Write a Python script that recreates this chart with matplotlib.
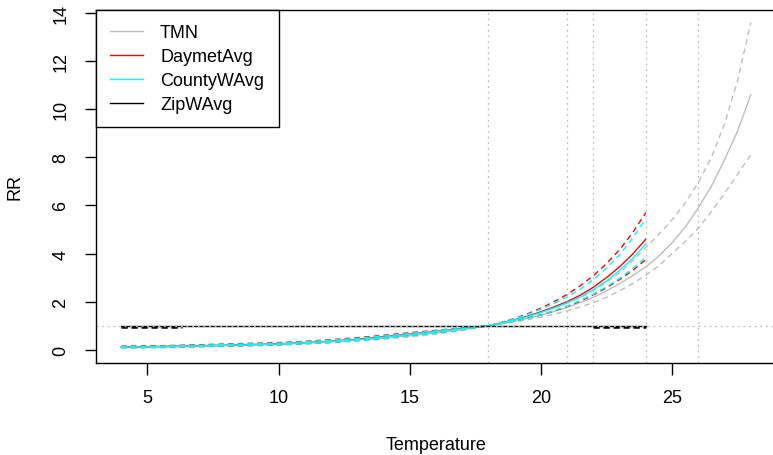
import numpy as np
import matplotlib
matplotlib.use('Agg')
import matplotlib.pyplot as plt

plt.rcParams['font.family'] = ['Liberation Sans', 'DejaVu Sans']

# temperature grids (1 degree steps up to 18, half degrees above)
temp_tmn = [4, 5, 6, 7, 8, 9, 10, 11, 12, 13, 14, 15, 16, 17, 18,
            18.5, 19, 19.5, 20, 20.5, 21, 21.5, 22, 22.5, 23, 23.5, 24,
            24.5, 25, 25.5, 26, 26.5, 27, 27.5, 28]
temp_avg = [4, 5, 6, 7, 8, 9, 10, 11, 12, 13, 14, 15, 16, 17, 18,
            18.5, 19, 19.5, 20, 20.5, 21, 21.5, 22, 22.5, 23, 23.5, 24]

# TMN (grey)
tmn_rr = [0.08, 0.10, 0.12, 0.14, 0.17, 0.19, 0.22, 0.27, 0.33, 0.40, 0.48, 0.58, 0.70, 0.84, 1.00,
          1.09, 1.19, 1.31, 1.44, 1.59, 1.76, 1.96, 2.18, 2.45, 2.75, 3.08, 3.45,
          3.90, 4.45, 5.10, 5.90, 6.80, 7.90, 9.10, 10.60]
tmn_hi = [0.11, 0.13, 0.15, 0.17, 0.20, 0.23, 0.26, 0.31, 0.37, 0.44, 0.53, 0.64, 0.75, 0.88, 1.00,
          1.11, 1.24, 1.38, 1.54, 1.72, 1.93, 2.17, 2.45, 2.80, 3.20, 3.70, 4.25,
          4.80, 5.40, 6.10, 6.95, 8.00, 9.40, 11.20, 13.60]
tmn_lo = [0.05, 0.07, 0.09, 0.11, 0.14, 0.16, 0.19, 0.23, 0.29, 0.36, 0.44, 0.53, 0.65, 0.80, 1.00,
          1.07, 1.15, 1.25, 1.36, 1.48, 1.62, 1.78, 1.96, 2.18, 2.45, 2.75, 3.10,
          3.50, 4.00, 4.50, 5.05, 5.75, 6.50, 7.30, 8.10]

# DaymetAvg (red)
day_rr = [0.12, 0.13, 0.15, 0.17, 0.19, 0.22, 0.25, 0.30, 0.36, 0.44, 0.54, 0.65, 0.76, 0.88, 1.00,
          1.12, 1.25, 1.40, 1.58, 1.78, 2.00, 2.27, 2.60, 3.00, 3.45, 3.98, 4.60]
day_hi = [0.15, 0.16, 0.18, 0.21, 0.24, 0.27, 0.30, 0.35, 0.42, 0.50, 0.60, 0.71, 0.81, 0.91, 1.00,
          1.14, 1.30, 1.50, 1.73, 2.00, 2.30, 2.66, 3.08, 3.58, 4.16, 4.87, 5.70]
day_lo = [0.10, 0.11, 0.12, 0.14, 0.16, 0.18, 0.21, 0.26, 0.31, 0.39, 0.48, 0.59, 0.71, 0.85, 1.00,
          1.10, 1.20, 1.32, 1.45, 1.61, 1.80, 2.02, 2.28, 2.58, 2.92, 3.30, 3.75]

# CountyWAvg (cyan)
cty_rr = [0.11, 0.12, 0.14, 0.16, 0.18, 0.21, 0.24, 0.29, 0.35, 0.42, 0.52, 0.63, 0.74, 0.87, 1.00,
          1.11, 1.24, 1.38, 1.55, 1.74, 1.95, 2.20, 2.50, 2.86, 3.30, 3.80, 4.40]
cty_hi = [0.13, 0.14, 0.16, 0.19, 0.22, 0.25, 0.28, 0.33, 0.40, 0.47, 0.57, 0.68, 0.79, 0.90, 1.00,
          1.13, 1.28, 1.47, 1.69, 1.93, 2.20, 2.52, 2.92, 3.40, 3.95, 4.65, 5.45]
cty_lo = [0.09, 0.10, 0.12, 0.14, 0.16, 0.18, 0.21, 0.25, 0.31, 0.38, 0.47, 0.58, 0.70, 0.84, 1.00,
          1.09, 1.19, 1.31, 1.45, 1.62, 1.82, 2.05, 2.32, 2.62, 2.97, 3.38, 3.85]

# ZipWAvg (black)
zip_temp = [4, 24]
zip_rr = [1.0, 1.0]
zip_ci_temp = [4, 5, 6, 6.3, np.nan, 22, 23, 24]
zip_lo = [0.955, 0.955, 0.955, 0.955, np.nan, 0.955, 0.955, 0.955]

vlines = [18, 21, 22, 24, 26]

fig = plt.figure(figsize=(7.73, 4.56), dpi=100)
ax = fig.add_axes([96 / 773, 1 - 364 / 456, 680 / 773, 353 / 456])

grey = '#BEBEBE'
dash = (0, (4, 3))
ax.plot(temp_tmn, tmn_rr, color=grey, lw=1, label='TMN')
ax.plot(temp_tmn, tmn_hi, color=grey, lw=1, ls=dash)
ax.plot(temp_tmn, tmn_lo, color=grey, lw=1, ls=dash)

ax.plot(temp_avg, day_rr, color='red', lw=1, label='DaymetAvg')
ax.plot(temp_avg, day_hi, color='red', lw=1, ls=dash)
ax.plot(temp_avg, day_lo, color='red', lw=1, ls=dash)

ax.plot(temp_avg, cty_rr, color='cyan', lw=1, label='CountyWAvg')
ax.plot(temp_avg, cty_hi, color='cyan', lw=1, ls=dash)
ax.plot(temp_avg, cty_lo, color='cyan', lw=1, ls=dash)

ax.plot(zip_temp, zip_rr, color='black', lw=1, label='ZipWAvg')
ax.plot(zip_ci_temp, zip_lo, color='black', lw=1.8, ls=(0, (2.5, 1.5)))

for v in vlines:
    ax.axvline(v, color=grey, lw=0.9, ls=(0, (1.5, 3)))
ax.axhline(1, color=grey, lw=0.9, ls=(0, (1.5, 3)))

ax.set_xlim(3.04, 28.96)
ax.set_ylim(-0.55, 14.12)
ax.set_xticks([5, 10, 15, 20, 25])
ax.set_yticks([0, 2, 4, 6, 8, 10, 12, 14])
ax.tick_params(axis='x', length=8.5, width=1, pad=10, labelsize=13)
ax.tick_params(axis='y', length=8, width=1, pad=11, labelsize=13, labelrotation=90)
for lab in ax.get_yticklabels():
    lab.set_verticalalignment('center')
for s in ax.spines.values():
    s.set_linewidth(1)

ax.set_xlabel('Temperature', fontsize=13, labelpad=22)
ax.set_ylabel('RR', fontsize=13, labelpad=21)

leg = ax.legend(loc='upper left', bbox_to_anchor=(0, 1), borderaxespad=0, fontsize=13,
                frameon=True, fancybox=False, edgecolor='black', framealpha=1,
                handlelength=1.8, handletextpad=0.95, borderpad=0.8, labelspacing=0.38)
leg.get_frame().set_linewidth(1)

fig.savefig('out.png', dpi=100)
